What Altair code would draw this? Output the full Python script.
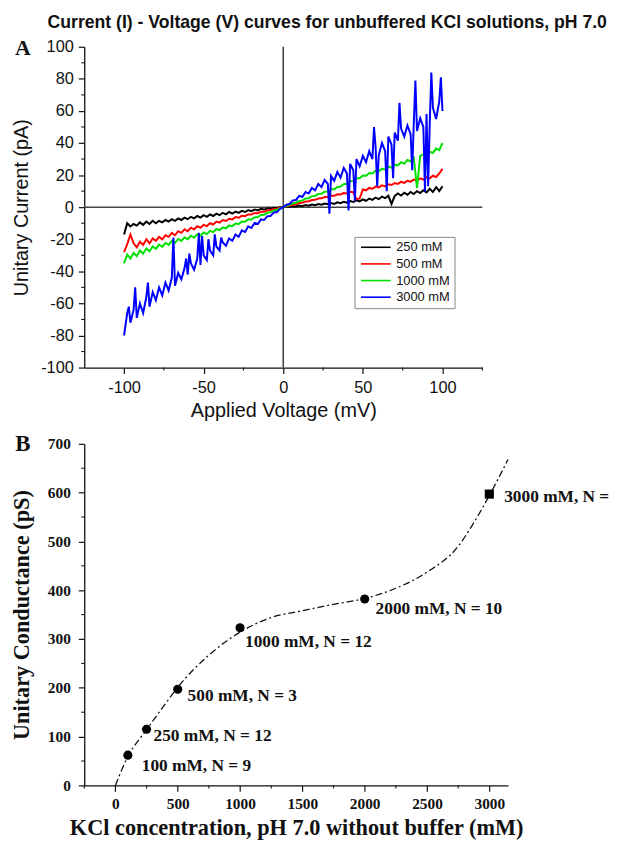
import altair as alt
import pandas as pd

# ---------------- Panel A data: I-V traces ----------------
voltage = list(range(-100, 101, 2))

i_250 = [-17, -10, -12, -10.5, -11.5, -9.5, -11, -9, -10.5, -8.5, -10,
         -8.5, -9.5, -8, -9, -7.5, -8.5, -7, -8, -6.5, -7.5,
         -6, -7, -5.5, -6.5, -5, -6, -4.5, -5.5, -4, -5,
         -3.5, -4.5, -3, -4, -2.8, -3.5, -2.3, -3, -1.8, -2.5,
         -1.5, -2, -1, -1.5, -0.7, -1, -0.3, -0.6, 0, 0,
         0.3, 0.2, 0.6, 0.4, 1, 0.6, 1.3, 0.9, 1.6, 1.2,
         2, 1.5, 2.3, 1.8, 2.6, 2, 3, 2.5, 3.4, 2.8,
         3.8, 3.2, 4.3, 3.6, 4.8, 4, 5.4, 4.6, 6, 5,
         6.6, 5.6, 7.2, 2, 7, 8.5, 7.2, 9, 7.8, 9.5,
         8.2, 10, 8.8, 10.5, 9.2, 11.5, 9.5, 12.5, 10, 13]

i_500 = [-28, -23, -17, -22.5, -25, -21.5, -23.5, -20, -22.5, -19.5, -21,
         -18.5, -20, -17.5, -18.5, -16, -17.5, -15, -16, -13.8, -15,
         -12.8, -13.8, -11.8, -12.8, -11, -11.8, -10, -10.8, -9, -9.6,
         -8, -8.6, -7.2, -7.6, -6.2, -6.6, -5.4, -5.6, -4.5, -4.6,
         -3.6, -3.8, -2.8, -2.8, -2, -1.8, -1.2, -0.9, -0.4, 0,
         0.5, 0.9, 1.5, 1.8, 2.6, 2.8, 3.5, 3.7, 4.5, 4.6,
         5.4, 5.5, 6.3, 6.3, 7.2, 7.1, 8, 7.9, 8.8, 8.6,
         9.6, 9.3, 5, 5.5, 11, 10.5, 12, 11.5, 12.8, 12.3,
         13.6, 13, 14.3, 13.8, 15, 14.5, 15.8, 15.2, 16.5, 15.9,
         17.2, 16.5, 18, 17.2, 18.8, 18, 19.6, 18.8, 21, 24]

i_1000 = [-35, -29.5, -32, -28.5, -30.5, -27, -29, -25.8, -27.5, -24.5, -26,
          -23.3, -24.8, -22.3, -23.5, -21, -22.3, -19.8, -21, -18.8, -20,
          -17.8, -19, -16.8, -17.8, -15.8, -16.8, -14.8, -15.6, -13.6, -14.3,
          -12.6, -13.2, -11.4, -11.9, -10.2, -10.5, -8.9, -9.1, -7.6, -7.7,
          -6.3, -6.2, -4.9, -4.7, -3.5, -3.1, -2.2, -1.6, -0.8, 0,
          0.8, 1.4, 2.4, 2.8, 3.9, 4.2, 5.4, 5.6, 6.8, 7,
          8.3, 8.4, 9.7, 9.8, 11.2, 11.2, 12.6, 12.8, 14.3, 14.6,
          16.2, 16.4, 18, 18, 19.8, 19.6, 21.3, 21, 22.8, 22.4,
          24, 23.4, 25.3, 24.6, 26.6, 26, 28, 27.2, 29.4, 28.6,
          30.8, 12, 31.8, 33, 32.3, 34.6, 33.8, 36.5, 35.5, 40]

i_3000 = [-80, -66, -72, -64, -69, -60, -66, -56, -62, -53, -58,
          -50, -55, -47, -52, -44, -49, -41, -45, -38, -42,
          -35, -39, -32, -36, -30, -33, -27, -30, -24.5, -27,
          -22, -24, -19.5, -21, -17, -18.5, -14.5, -15.5, -12, -13,
          -9.8, -10.5, -7.6, -8, -5.6, -5.5, -3.4, -3, -1, 0,
          1.5, 2, 4.2, 4.5, 7, 6.5, 9.5, 8.5, 12, 10.5,
          14.5, 12.5, 17, 14.5, 19.5, 16.5, 22, 18.5, 24.5, 21,
          27, 23, 30, 25.5, 32, 28, 35, 30, 37.5, 32.5,
          40, 35, 44, 39, 46.5, 41.5, 49, 44, 51, 45.5,
          53, 47.5, 55.5, 50, 58, 52, 62, 55, 66, 60]

# sharp spikes of the 3000 mM trace (voltage, current)
spike_v_3000 = [-97, -93, -85, -69, -61, -59, -53, -51, -47, -43, -39,
                29, 41, 45, 57, 59, 65, 69, 73, 81, 83, 89, 91, 93, 99]
spike_i_3000 = [-62, -50, -47, -19, -32, -29, -16, -18, -20, -17, -19,
                -4, -2, 4, 50, 13, 10, 18, 65, 23, 79, 10, 13, 84, 81]

series_names = ["250 mM", "500  mM", "1000 mM", "3000 mM"]
series_colors = ["#000000", "#ff0000", "#00e000", "#0000ff"]

minor_v = [-75, -25, 25, 75, 125]
minor_i = [-90, -70, -50, -30, -10, 10, 30, 50, 70, 90]

# ---------------- Panel B data: conductance ----------------
conc = [100, 250, 500, 1000, 2000, 3000]
cond = [62, 115, 197, 323, 382, 597]
point_labels = ["100 mM, N = 9", "250 mM, N = 12", "500 mM, N = 3",
                "1000 mM, N = 12", "2000 mM, N = 10", "3000 mM, N ="]

fit_conc = [0, 100, 250, 380, 500, 750, 1000, 1250, 1500, 1750, 2000,
            2250, 2500, 2750, 2870, 3000, 3150]
fit_cond = [0, 59, 114, 160, 201, 267, 314, 344, 358, 371, 383,
            404, 437, 490, 536, 594, 668]

minor_c = [-250, 250, 750, 1250, 1750, 2250, 2750]
minor_g = [50, 150, 250, 350, 450, 550, 650]

panel_letters = ["A", "B"]
title_text = ["Current (I) - Voltage (V) curves for unbuffered KCl solutions, pH 7.0"]

# ---------------- build tables ----------------
rows = []
for name, vals in zip(series_names[:3], [i_250, i_500, i_1000]):
    for v, i in zip(voltage, vals):
        rows.append({"v": v, "i": i, "s": name})
blue = list(zip(voltage, i_3000)) + list(zip(spike_v_3000, spike_i_3000))
blue.sort(key=lambda p: p[0])
for v, i in blue:
    rows.append({"v": v, "i": i, "s": series_names[3]})
iv = pd.DataFrame(rows)

WA, HA = 402, 324
WB, HB = 428, 345

SANS = "Liberation Sans"
SERIF = "Liberation Serif"
PLAIN = "'' + datum.value"

xa_scale = alt.Scale(domain=[-125, 125], nice=False, zero=False)
ya_scale = alt.Scale(domain=[-100, 100], nice=False, zero=False)

axis_common = dict(grid=False, domainColor="#111", tickColor="#111",
                   labelColor="#111", titleColor="#111", domainWidth=1.3,
                   tickWidth=1.2, tickSize=6, labelExpr=PLAIN)

xa_axis = alt.Axis(values=[-100, -50, 0, 50, 100], title="Applied Voltage (mV)",
                   labelFont=SANS, labelFontSize=16.5, titleFont=SANS,
                   titleFontSize=20, titleFontWeight="normal", labelPadding=6,
                   titlePadding=5, labelFlush=False, **axis_common)
ya_axis = alt.Axis(values=list(range(-100, 101, 20)), title="Unitary Current (pA)",
                   labelFont=SANS, labelFontSize=16.5, titleFont=SANS,
                   titleFontSize=20, titleFontWeight="normal", labelPadding=5,
                   titlePadding=9, labelFlush=False, **axis_common)

XA = alt.X("v:Q", scale=xa_scale, axis=xa_axis)
YA = alt.Y("i:Q", scale=ya_scale, axis=ya_axis)

lines = alt.Chart(iv).mark_line(strokeWidth=2.0, clip=True).encode(
    x=XA, y=YA,
    color=alt.Color("s:N", scale=alt.Scale(domain=series_names, range=series_colors),
                    sort=series_names,
                    legend=alt.Legend(title=None, orient="none", legendX=273, legendY=192,
                                      strokeColor="#888", fillColor="white", padding=4,
                                      symbolType="M-1,0H6.5", symbolSize=64,
                                      symbolStrokeWidth=1.6, labelFont=SANS,
                                      labelFontSize=13, labelOffset=25, rowPadding=2.8,
                                      labelColor="#111")),
    detail="s:N",
)

zero_v = alt.Chart(pd.DataFrame({"v": [0]})).mark_rule(color="#444", strokeWidth=1.6).encode(x=XA)
zero_i = alt.Chart(pd.DataFrame({"i": [0]})).mark_rule(color="#444", strokeWidth=1.6).encode(y=YA)

minor_xa = alt.Chart(pd.DataFrame({"v": minor_v})).mark_rule(color="#111", strokeWidth=1.1).encode(
    x=XA, y=alt.value(HA), y2=alt.value(HA + 3))
minor_ya = alt.Chart(pd.DataFrame({"i": minor_i})).mark_rule(color="#111", strokeWidth=1.1).encode(
    y=YA, x=alt.value(0), x2=alt.value(-3))

letter_a = alt.Chart(pd.DataFrame({"t": [panel_letters[0]]})).mark_text(
    font=SERIF, fontWeight="bold", fontSize=22, align="center", baseline="middle", color="#111"
).encode(text="t:N", x=alt.value(-62), y=alt.value(1))

title_a = alt.Chart(pd.DataFrame({"t": title_text})).mark_text(
    font=SANS, fontWeight="bold", fontSize=17.8, align="left", baseline="middle", color="#111"
).encode(text="t:N", x=alt.value(-37), y=alt.value(-24))

panel_a = alt.layer(zero_v, zero_i, lines, minor_xa, minor_ya, letter_a, title_a).properties(
    width=WA, height=HA)

# ---------------- panel B ----------------
pts = pd.DataFrame({"c": conc, "g": cond, "lab": point_labels})
fit = pd.DataFrame({"c": fit_conc, "g": fit_cond})

xb_scale = alt.Scale(domain=[-250, 3150], nice=False, zero=False)
yb_scale = alt.Scale(domain=[0, 700], nice=False, zero=False)

xb_axis = alt.Axis(values=list(range(0, 3001, 500)),
                   title="KCl concentration, pH 7.0 without buffer (mM)",
                   labelFont=SERIF, labelFontSize=15.5, labelFontWeight="bold",
                   titleFont=SERIF, titleFontSize=22.5, titleFontWeight="bold",
                   labelPadding=5, titlePadding=5, labelFlush=False, **axis_common)
yb_axis = alt.Axis(values=list(range(0, 701, 100)), title="Unitary Conductance (pS)",
                   labelFont=SERIF, labelFontSize=15.5, labelFontWeight="bold",
                   titleFont=SERIF, titleFontSize=22.5, titleFontWeight="bold",
                   labelPadding=8, titlePadding=14, labelFlush=False, **axis_common)

XB = alt.X("c:Q", scale=xb_scale, axis=xb_axis)
YB = alt.Y("g:Q", scale=yb_scale, axis=yb_axis)

fit_line = alt.Chart(fit).mark_line(color="#111", strokeWidth=1.3, strokeDash=[7, 3, 2, 3],
                                    interpolate="monotone").encode(x=XB, y=YB)
circles = alt.Chart(pts).transform_filter(alt.datum.c < 3000).mark_point(
    shape="circle", filled=True, size=85, color="#000", opacity=1).encode(x=XB, y=YB)
squares = alt.Chart(pts).transform_filter(alt.datum.c == 3000).mark_point(
    shape="square", filled=True, size=85, color="#000", opacity=1).encode(x=XB, y=YB)

label_offsets = {100: (14, 11), 250: (7, 7), 500: (10, 7), 1000: (5, 14),
                 2000: (11, 10), 3000: (15, 3)}
label_layers = []
for c_val in conc:
    dx, dy = label_offsets[c_val]
    label_layers.append(
        alt.Chart(pts).transform_filter(alt.datum.c == c_val).mark_text(
            font=SERIF, fontWeight="bold", fontSize=17.5, align="left", baseline="middle",
            dx=dx, dy=dy, color="#111").encode(x=XB, y=YB, text="lab:N"))

minor_xb = alt.Chart(pd.DataFrame({"c": minor_c})).mark_rule(color="#111", strokeWidth=1.1).encode(
    x=XB, y=alt.value(HB), y2=alt.value(HB + 3))
minor_yb = alt.Chart(pd.DataFrame({"g": minor_g})).mark_rule(color="#111", strokeWidth=1.1).encode(
    y=YB, x=alt.value(0), x2=alt.value(-3))

letter_b = alt.Chart(pd.DataFrame({"t": [panel_letters[1]]})).mark_text(
    font=SERIF, fontWeight="bold", fontSize=23, align="center", baseline="middle", color="#111"
).encode(text="t:N", x=alt.value(-62), y=alt.value(0))

panel_b = alt.layer(fit_line, circles, squares, *label_layers, minor_xb, minor_yb, letter_b).properties(
    width=WB, height=HB)

chart = alt.vconcat(panel_a, panel_b, spacing=12).properties(
    padding={"left": 2, "top": 2, "right": 0, "bottom": 0},
    background="white",
).configure_view(stroke=None)

chart.save("out.html", embed_options={"renderer": "svg", "actions": False})
